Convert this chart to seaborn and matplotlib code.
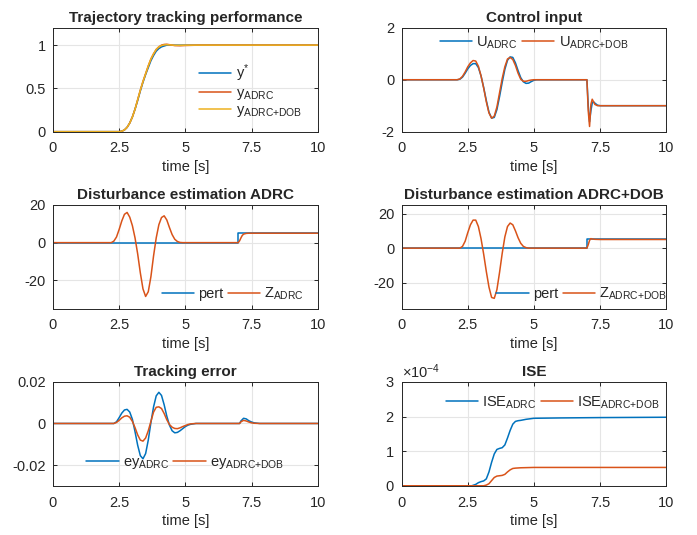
import numpy as np
import pandas as pd
import matplotlib
matplotlib.use("Agg")
import matplotlib.pyplot as plt
import matplotlib.ticker as mticker
import seaborn as sns

BLUE = "#0072BD"
ORANGE = "#D95319"
YELLOW = "#EDB120"

# ---- trajectory tracking
t_traj = [0, 2.5, 2.6, 2.7, 2.8, 2.9, 3.0, 3.1, 3.2, 3.3, 3.4, 3.5, 3.6, 3.7, 3.8, 3.9,
          4.0, 4.1, 4.2, 4.3, 4.4, 4.6, 4.8, 5.0, 5.5, 10]
y_ref = [0, 0, 0.005, 0.02, 0.05, 0.1, 0.17, 0.26, 0.36, 0.47, 0.57, 0.66, 0.74, 0.82,
         0.88, 0.93, 0.96, 0.98, 0.99, 1.0, 1.0, 1.0, 1.0, 1.0, 1.0, 1.0]
y_adrc = [0, 0, 0.005, 0.02, 0.05, 0.1, 0.17, 0.26, 0.37, 0.48, 0.58, 0.67, 0.76, 0.84,
          0.9, 0.95, 0.98, 1.0, 1.008, 1.01, 1.005, 0.995, 0.993, 0.996, 1.0, 1.0]
y_dob = [0, 0, 0.005, 0.02, 0.05, 0.1, 0.17, 0.26, 0.37, 0.48, 0.58, 0.67, 0.76, 0.84,
         0.9, 0.95, 0.98, 0.995, 1.003, 1.005, 1.003, 0.998, 0.998, 0.999, 1.0, 1.0]

# ---- control input
t_u = [0, 2.1, 2.2, 2.3, 2.4, 2.5, 2.6, 2.7, 2.8, 2.9, 3.0, 3.1, 3.2, 3.3, 3.4, 3.5, 3.6,
       3.7, 3.8, 3.9, 4.0, 4.1, 4.2, 4.3, 4.4, 4.5, 4.6, 4.7, 4.8, 4.9, 5.0, 5.1, 5.2, 7.0,
       7.05, 7.1, 7.15, 7.2, 7.25, 7.3, 7.4, 7.5, 7.7, 10]
u_adrc = [0, 0, 0.02, 0.1, 0.25, 0.42, 0.55, 0.62, 0.62, 0.47, 0.15, -0.3, -0.8, -1.25,
          -1.48, -1.45, -1.15, -0.65, -0.1, 0.4, 0.75, 0.88, 0.86, 0.65, 0.35, 0.08, -0.08,
          -0.14, -0.13, -0.07, -0.02, 0, 0, 0, -1.0, -1.62, -1.2, -0.9, -0.85, -0.9, -0.98,
          -1.0, -1.0, -1.0]
u_dob = [0, 0, 0.03, 0.13, 0.3, 0.5, 0.65, 0.74, 0.72, 0.52, 0.15, -0.32, -0.85, -1.28,
         -1.48, -1.4, -1.05, -0.5, 0.05, 0.5, 0.8, 0.86, 0.78, 0.55, 0.25, 0.02, -0.06,
         -0.06, -0.03, -0.01, 0, 0, 0, 0, -1.2, -1.8, -0.95, -0.75, -0.85, -0.95, -1.0,
         -1.0, -1.0, -1.0]

# ---- disturbance
t_pert = [0, 7.0, 7.0, 10]
pert = [0, 0, 5, 5]
t_z1 = [0, 2.2, 2.3, 2.4, 2.5, 2.6, 2.7, 2.8, 2.9, 3.0, 3.1, 3.2, 3.3, 3.4, 3.5, 3.6, 3.7,
        3.8, 3.9, 4.0, 4.1, 4.2, 4.3, 4.4, 4.5, 4.6, 4.7, 4.8, 4.9, 7.0, 7.05, 7.1, 7.15,
        7.2, 7.3, 7.4, 10]
z_adrc = [0, 0, 0.8, 3, 7, 11.5, 15, 16, 13.5, 9, 2.5, -6, -16, -24.5, -28.5, -26, -18,
          -7, 2.5, 9.5, 13.3, 14.2, 12, 8, 4.3, 1.8, 0.6, 0.1, 0, 0, 1, 2.5, 3.8, 4.5,
          4.9, 5, 5]
t_z2 = [0, 2.2, 2.3, 2.4, 2.5, 2.6, 2.7, 2.8, 2.9, 3.0, 3.1, 3.2, 3.3, 3.4, 3.5, 3.6, 3.7,
        3.8, 3.9, 4.0, 4.1, 4.2, 4.3, 4.4, 4.5, 4.6, 4.7, 4.8, 7.0, 7.05, 7.1, 7.15, 7.2,
        7.3, 7.5, 10]
z_dob = [0, 0, 1, 4, 9, 13.5, 16.2, 16.2, 12.5, 5.5, -3.5, -13.5, -22.5, -28.5, -29, -24,
         -14, -3, 6.5, 12.5, 14.5, 13.5, 10, 6, 2.8, 1, 0.3, 0, 0, 2, 4.5, 5.5, 5.3, 5.1,
         5, 5]

# ---- tracking error
t_e = [0, 2.3, 2.4, 2.5, 2.6, 2.7, 2.8, 2.9, 3.0, 3.1, 3.2, 3.3, 3.4, 3.5, 3.6, 3.7, 3.8,
       3.9, 4.0, 4.1, 4.2, 4.3, 4.4, 4.5, 4.6, 4.7, 4.8, 4.9, 5.0, 5.1, 5.2, 5.4, 7.05,
       7.1, 7.2, 7.3, 7.4, 7.5, 7.6, 7.8, 10]
ey_adrc = [0, 0, 0.0008, 0.0028, 0.005, 0.0065, 0.0068, 0.0055, 0.002, -0.004, -0.0105,
           -0.0155, -0.017, -0.0145, -0.008, 0.0005, 0.008, 0.0133, 0.015, 0.0135, 0.009,
           0.0035, -0.0008, -0.0035, -0.0045, -0.0043, -0.0035, -0.0025, -0.0015, -0.0008,
           -0.0004, 0, 0, 0.0012, 0.0025, 0.0022, 0.0013, 0.0007, 0.0003, 0, 0]
ey_dob = [0, 0, 0.0005, 0.0015, 0.0027, 0.0035, 0.0037, 0.003, 0.001, -0.002, -0.0055,
          -0.008, -0.0085, -0.007, -0.0035, 0.001, 0.0055, 0.0078, 0.008, 0.0072, 0.0048,
          0.0018, -0.0005, -0.0018, -0.0024, -0.0025, -0.0021, -0.0015, -0.001, -0.0005,
          -0.0002, 0, 0, 0.0008, 0.0015, 0.0012, 0.0007, 0.0003, 0.0001, 0, 0]

# ---- ISE (x1e-4)
t_ise1 = [0, 2.65, 2.8, 2.9, 3.0, 3.1, 3.2, 3.3, 3.4, 3.5, 3.6, 3.7, 3.8, 3.9, 4.0, 4.1,
          4.2, 4.3, 4.4, 4.5, 4.7, 5.0, 6.0, 7.5, 10]
ise_adrc = [0, 0, 0.04, 0.09, 0.12, 0.14, 0.2, 0.4, 0.68, 0.92, 1.05, 1.08, 1.1, 1.18,
            1.38, 1.6, 1.78, 1.86, 1.88, 1.89, 1.92, 1.95, 1.96, 1.97, 1.98]
t_ise2 = [0, 3.1, 3.2, 3.3, 3.4, 3.5, 3.6, 3.7, 3.8, 3.9, 4.0, 4.1, 4.2, 4.3, 4.5, 5.0, 10]
ise_dob = [0, 0, 0.02, 0.06, 0.15, 0.24, 0.28, 0.29, 0.3, 0.33, 0.4, 0.46, 0.5, 0.51,
           0.52, 0.53, 0.53]

sns.set_theme(style="whitegrid")
plt.rcParams.update({
    "font.family": ["Liberation Sans", "DejaVu Sans"],
    "mathtext.default": "regular",
    "axes.unicode_minus": False,
    "axes.edgecolor": "#262626",
    "axes.linewidth": 0.7,
    "grid.color": "#e5e5e5",
    "grid.linewidth": 0.8,
    "xtick.color": "#262626",
    "ytick.color": "#262626",
    "xtick.direction": "in",
    "ytick.direction": "in",
    "xtick.major.size": 3,
    "ytick.major.size": 3,
    "xtick.major.width": 0.7,
    "ytick.major.width": 0.7,
    "xtick.top": True,
    "ytick.right": True,
    "xtick.bottom": True,
    "ytick.left": True,
    "font.size": 10,
})

fig, axes = plt.subplots(3, 2, figsize=(6.97, 5.35), dpi=100)
fig.subplots_adjust(left=0.076, right=0.956, bottom=0.092, top=0.948,
                    wspace=0.317, hspace=0.705)


def line(ax, t, v, color, label):
    sns.lineplot(x=t, y=v, ax=ax, color=color, label=label, linewidth=1.1,
                 estimator=None, sort=False)


def style(ax, title, ylim, yticks):
    ax.set_title(title, fontsize=11, fontweight="bold", pad=4)
    ax.set_xlim(0, 10)
    ax.set_ylim(*ylim)
    ax.set_xticks([0, 2.5, 5, 7.5, 10])
    ax.set_xticklabels(["0", "2.5", "5", "7.5", "10"])
    ax.set_yticks(yticks)
    ax.set_xlabel("time [s]", fontsize=10.5, color="#262626", labelpad=3)
    ax.set_ylabel("")
    ax.tick_params(labelsize=10.5)
    ax.tick_params(axis="x", pad=7)
    ax.tick_params(axis="y", pad=5)
    for s in ax.spines.values():
        s.set_visible(True)
        s.set_color("#262626")


def leg(ax, loc, anchor, ncol):
    ax.legend(loc=loc, bbox_to_anchor=anchor, ncol=ncol, frameon=False, fontsize=10.5,
              handlelength=2.2, handletextpad=0.3, columnspacing=0.3, labelspacing=0.1,
              borderaxespad=0)


ax = axes[0, 0]
line(ax, t_traj, y_ref, BLUE, "y$^{*}$")
line(ax, t_traj, y_adrc, ORANGE, "y$_{ADRC}$")
line(ax, t_traj, y_dob, YELLOW, "y$_{ADRC{+}DOB}$")
style(ax, "Trajectory tracking performance", (0, 1.2), [0, 0.5, 1])
ax.set_yticklabels(["0", "0.5", "1"])
leg(ax, "upper left", (0.53, 0.72), 1)

ax = axes[0, 1]
line(ax, t_u, u_adrc, BLUE, "U$_{ADRC}$")
line(ax, t_u, u_dob, ORANGE, "U$_{ADRC{+}DOB}$")
style(ax, "Control input", (-2, 2), [-2, 0, 2])
leg(ax, "center", (0.5, 0.86), 2)

ax = axes[1, 0]
line(ax, t_pert, pert, BLUE, "pert")
line(ax, t_z1, z_adrc, ORANGE, "Z$_{ADRC}$")
style(ax, "Disturbance estimation ADRC", (-35, 20), [-20, 0, 20])
leg(ax, "center", (0.68, 0.14), 2)

ax = axes[1, 1]
line(ax, t_pert, pert, BLUE, "pert")
line(ax, t_z2, z_dob, ORANGE, "Z$_{ADRC{+}DOB}$")
style(ax, "Disturbance estimation ADRC+DOB", (-35, 25), [-20, 0, 20])
leg(ax, "center", (0.68, 0.14), 2)

ax = axes[2, 0]
line(ax, t_e, ey_adrc, BLUE, "ey$_{ADRC}$")
line(ax, t_e, ey_dob, ORANGE, "ey$_{ADRC{+}DOB}$")
style(ax, "Tracking error", (-0.03, 0.02), [-0.02, 0, 0.02])
ax.set_yticklabels(["-0.02", "0", "0.02"])
leg(ax, "center", (0.5, 0.22), 2)

ax = axes[2, 1]
line(ax, t_ise1, np.array(ise_adrc) * 1e-4, BLUE, "ISE$_{ADRC}$")
line(ax, t_ise2, np.array(ise_dob) * 1e-4, ORANGE, "ISE$_{ADRC{+}DOB}$")
style(ax, "ISE", (0, 3e-4), [0, 1e-4, 2e-4, 3e-4])
fmt = mticker.ScalarFormatter(useMathText=True)
fmt.set_powerlimits((-3, 3))
ax.yaxis.set_major_formatter(fmt)
ax.yaxis.get_offset_text().set_fontsize(10.5)
leg(ax, "center", (0.57, 0.8), 2)

fig.savefig("out.png", dpi=100)
